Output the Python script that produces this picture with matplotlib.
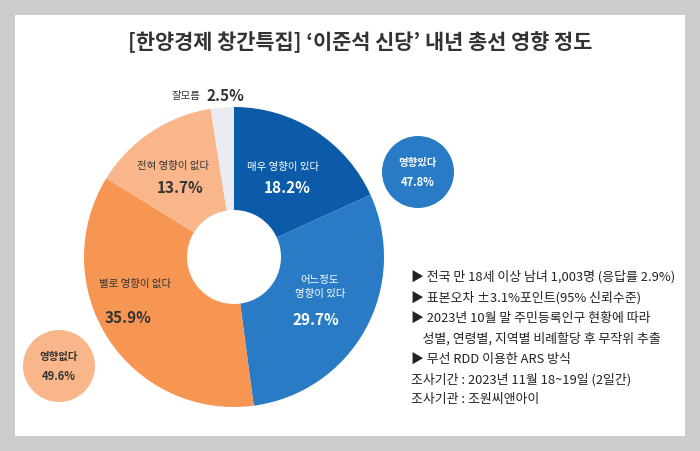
import matplotlib as mpl
mpl.use("Agg")
import matplotlib.pyplot as plt
from matplotlib.patches import Rectangle, Circle

plt.rcParams['font.family'] = ['Noto Sans CJK KR', 'DejaVu Sans']

# data
title = "[한양경제 창간특집] ‘이준석 신당’ 내년 총선 영향 정도"
labels = ['매우 영향이 있다', '어느정도\n영향이 있다', '별로 영향이 없다', '전혀 영향이 없다', '잘모름']
values = [18.2, 29.7, 35.9, 13.7, 2.5]
colors = ['#0b5ba8', '#2a7bc6', '#f79553', '#f9b68b', '#ebebf3']
summary_labels = ['영향있다', '영향없다']
summary_values = [47.8, 49.6]
notes = [
    '▶ 전국 만 18세 이상 남녀 1,003명 (응답률 2.9%)',
    '▶ 표본오차 ±3.1%포인트(95% 신뢰수준)',
    '▶ 2023년 10월 말 주민등록인구 현황에 따라',
    '    성별, 연령별, 지역별 비례할당 후 무작위 추출',
    '▶ 무선 RDD 이용한 ARS 방식',
    '조사기간 : 2023년 11월 18~19일 (2일간)',
    '조사기관 : 조원씨앤아이',
]

W, H = 700, 451
fig = plt.figure(figsize=(7, 4.51), dpi=100, facecolor='#cccccc')
ax = fig.add_axes([0, 0, 1, 1])

# pie in pixel coordinates (y measured from bottom)
cx, cy, r = 234, H - 257, 150
ax.pie(values, colors=colors, startangle=90, counterclock=False,
       center=(cx, cy), radius=r, wedgeprops=dict(width=r - 47, linewidth=0))
ax.set_xlim(0, W)
ax.set_ylim(0, H)
ax.set_aspect('equal')
ax.axis('off')

# white panel behind everything
ax.add_patch(Rectangle((15, H - 436), 670, 421, facecolor='white', edgecolor='none', zorder=-5))

ax.text(360, H - 42, title, ha='center', va='center', fontsize=15, fontweight='bold', color='#333333')

# slice labels (name position, pct position)
name_pos = [(283, 167), (320, 287), (135, 284), (173, 166), (186, 96)]
pct_pos = [(287, 188), (316, 320), (128, 318), (180, 188), (225, 96)]
text_colors = ['white', 'white', '#333333', '#333333', '#333333']
for i in range(4):
    ax.text(name_pos[i][0], H - name_pos[i][1], labels[i], ha='center', va='center',
            fontsize=7.5, color=text_colors[i], linespacing=1.4)
    ax.text(pct_pos[i][0], H - pct_pos[i][1], f'{values[i]}%', ha='center', va='center',
            fontsize=11, fontweight='bold', color=text_colors[i])
ax.text(name_pos[4][0], H - name_pos[4][1], labels[4], ha='center', va='center',
        fontsize=7.5, color='#333333')
ax.text(pct_pos[4][0], H - pct_pos[4][1], f'{values[4]}%', ha='center', va='center',
        fontsize=11, fontweight='bold', color='#333333')

# summary bubbles
bubble_pos = [(418, 172), (59, 366)]
bubble_colors = ['#2a7bc6', '#f9b68b']
bubble_text = ['white', '#333333']
for (bx, by), lab, val, bc, tc in zip(bubble_pos, summary_labels, summary_values, bubble_colors, bubble_text):
    ax.add_patch(Circle((bx, H - by), 36, facecolor=bc, edgecolor='none'))
    ax.text(bx, H - by + 9, lab, ha='center', va='center', fontsize=7.5, fontweight='bold', color=tc)
    ax.text(bx, H - by - 10, f'{val}%', ha='center', va='center', fontsize=8, fontweight='bold', color=tc)

# notes
for i, line in enumerate(notes):
    ax.text(411, H - (277 + i * 20.5), line, ha='left', va='center', fontsize=9.3, color='#222222')

fig.savefig('out.png', dpi=100, facecolor=fig.get_facecolor())
